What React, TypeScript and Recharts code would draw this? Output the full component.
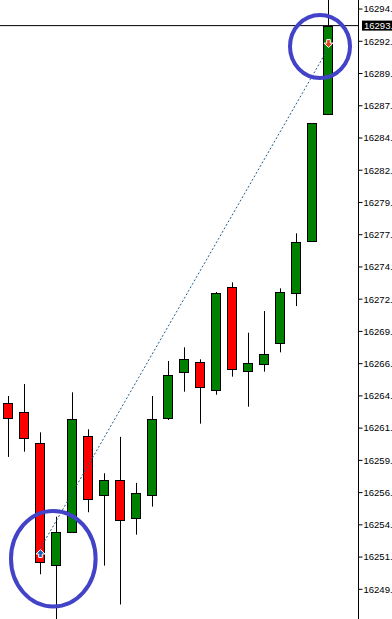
import React from 'react';
import { ComposedChart, Bar, XAxis, YAxis, ReferenceLine, ReferenceDot } from 'recharts';

// bars, oldest first (prices)
const bars = ['1', '2', '3', '4', '5', '6', '7', '8', '9', '10', '11', '12', '13', '14', '15', '16', '17', '18', '19', '20', '21'];
const opens = [16263.86, 16263.15, 16260.72, 16251.15, 16253.78, 16261.29, 16256.64, 16257.82, 16254.84, 16256.64, 16262.68, 16266.29, 16267.08, 16264.88, 16272.96, 16266.37, 16266.92, 16268.57, 16272.49, 16276.57, 16286.54];
const highs = [16264.43, 16265.37, 16261.58, 16254.96, 16264.72, 16261.82, 16258.37, 16261.22, 16257.61, 16264.43, 16267.18, 16268.25, 16267.31, 16272.59, 16273.35, 16269.4, 16271.1, 16272.88, 16277.2, 16285.83, 16296.0];
const lows = [16259.65, 16260.06, 16250.44, 16246.6, 16253.78, 16255.31, 16251.12, 16248.07, 16253.55, 16255.75, 16262.55, 16264.77, 16262.26, 16264.53, 16265.95, 16263.59, 16266.34, 16267.86, 16271.49, 16276.52, 16286.54];
const closes = [16262.68, 16261.11, 16251.38, 16253.78, 16262.6, 16256.33, 16257.84, 16254.69, 16256.8, 16262.6, 16266.06, 16267.31, 16265.11, 16272.51, 16266.57, 16267.0, 16267.7, 16272.57, 16276.49, 16285.83, 16293.5];

const priceTicks = [16294.8, 16292.27, 16289.74, 16287.21, 16284.68, 16282.15, 16279.62, 16277.09, 16274.56, 16272.03, 16269.5, 16266.97, 16264.44, 16261.91, 16259.38, 16256.85, 16254.32, 16251.79, 16249.26];
const yDomain = [16246.93, 16295.51];

const bidPrice = 16293.5;
const bidLabel = '16293.';

// buy / sell arrows and the dotted line between them
const buyArrow = { bar: '3', price: 16252.03 };
const sellArrow = { bar: '21', price: 16292.09 };
const tradeLine = [{ x: '3', y: 16252.49 }, { x: '21', y: 16291.76 }];

// highlight circles
const circles = [
  { bar: '4', price: 16251.66, dx: -3.2, rx: 42.3, ry: 47.8 },
  { bar: '21', price: 16291.86, dx: -8.5, rx: 30, ry: 31.5 },
];

const data = bars.map((b, i) => ({
  bar: b,
  open: opens[i],
  high: highs[i],
  low: lows[i],
  close: closes[i],
}));

const Candle = (props: any) => {
  const { x, y, width, height, payload } = props;
  const top = Math.min(y, y + height);
  const bot = Math.max(y, y + height);
  const { open, high, low, close } = payload;
  const toY = (v: number) => top + ((high - v) / (high - low)) * (bot - top);
  const cx = Math.floor(x + width / 2) + 0.5;
  const up = close >= open;
  const bTop = Math.round(toY(Math.max(open, close))) + 0.5;
  const bBot = Math.round(toY(Math.min(open, close))) + 0.5;
  return (
    <g>
      <line x1={cx} x2={cx} y1={top} y2={bot} stroke="#000" strokeWidth={1} />
      <rect
        x={cx - 5}
        y={bTop}
        width={9}
        height={Math.max(1, bBot - bTop)}
        fill={up ? '#008000' : '#ff0000'}
        stroke="#000"
        strokeWidth={1}
      />
    </g>
  );
};

const ArrowUp = ({ cx, cy }: any) => (
  <path
    d={`M${cx},${cy - 4.5} L${cx + 4.5},${cy} L${cx + 1.8},${cy} L${cx + 1.8},${cy + 3.5} L${cx - 1.8},${cy + 3.5} L${cx - 1.8},${cy} L${cx - 4.5},${cy} Z`}
    fill="#1f5fae"
    stroke="#fff"
    strokeWidth={1}
  />
);

const ArrowDown = ({ cx, cy }: any) => (
  <path
    d={`M${cx},${cy + 4} L${cx + 4.5},${cy - 0.5} L${cx + 1.8},${cy - 0.5} L${cx + 1.8},${cy - 4} L${cx - 1.8},${cy - 4} L${cx - 1.8},${cy - 0.5} L${cx - 4.5},${cy - 0.5} Z`}
    fill="#e8401c"
    stroke="#fff"
    strokeWidth={1}
  />
);

const BidTag = (props: any) => {
  const { viewBox } = props;
  const x = viewBox.x + viewBox.width + 3.5;
  const y = viewBox.y;
  return (
    <g>
      <rect x={x} y={y - 5} width={40} height={10} fill="#000" />
      <text x={x + 2} y={y} dy="0.355em" fill="#fff" fontSize={9.5} fontFamily="Liberation Sans, Arial, sans-serif">
        {bidLabel}
      </text>
    </g>
  );
};

export default function App() {
  return (
    <div style={{ position: 'absolute', left: 0, top: 0, width: 392, height: 619, background: '#fff' }}>
      <ComposedChart width={392} height={619} data={data} margin={{ top: 0, right: 0, bottom: 0, left: 0 }}>
        <XAxis dataKey="bar" hide padding={{ left: 0.5, right: 22 }} />
        <YAxis
          orientation="right"
          width={33.5}
          domain={yDomain}
          allowDataOverflow
          ticks={priceTicks}
          interval={0}
          axisLine={{ stroke: '#000' }}
          tickLine={{ stroke: '#000' }}
          tickSize={4}
          tickMargin={1}
          tick={{ fontSize: 9.5, fill: '#000', fontFamily: 'Liberation Sans, Arial, sans-serif' }}
          tickFormatter={(v: number) => `${Math.floor(v)}.`}
        />
        <Bar
          dataKey={(d: any) => [d.low, d.high]}
          barSize={10}
          shape={<Candle />}
          isAnimationActive={false}
        />
        <ReferenceLine y={bidPrice} stroke="#000" strokeWidth={1} label={<BidTag />} />
        <ReferenceLine segment={tradeLine} stroke="#1f5f8c" strokeWidth={1} strokeDasharray="2 2" />
        <ReferenceDot x={buyArrow.bar} y={buyArrow.price} shape={<ArrowUp />} />
        <ReferenceDot x={sellArrow.bar} y={sellArrow.price} shape={<ArrowDown />} />
        {circles.map((c, i) => (
          <ReferenceDot
            key={i}
            x={c.bar}
            y={c.price}
            shape={(p: any) => (
              <ellipse cx={p.cx + c.dx} cy={p.cy} rx={c.rx} ry={c.ry} fill="none" stroke="#4343c9" strokeWidth={4} />
            )}
          />
        ))}
      </ComposedChart>
    </div>
  );
}
